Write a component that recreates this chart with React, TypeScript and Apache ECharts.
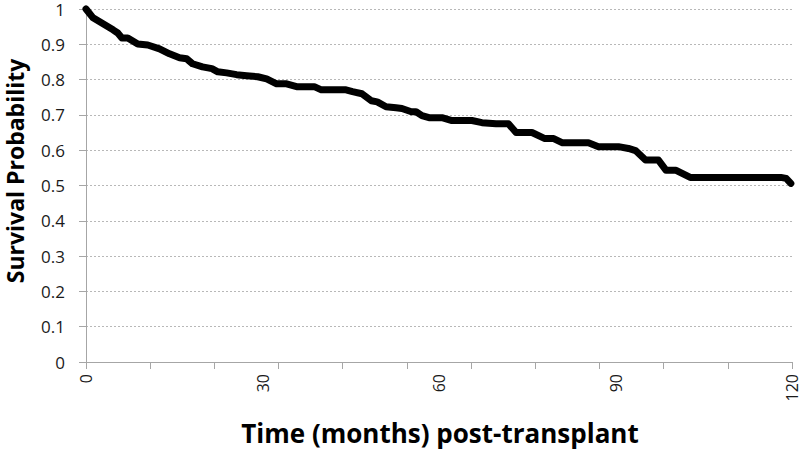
import React, { useEffect, useRef } from "react";
import * as echarts from "echarts";

const months = [0, 1.2, 2.9, 4.6, 5.4, 6.1, 7.1, 8.8, 10.5, 12.5, 14.2, 15.9, 17.1, 18.1, 19.8, 21.4, 22.4, 23.9, 25.6, 27.3, 29.2, 30.7, 32.4, 34.1, 35.8, 38.8, 40.0, 44.2, 45.3, 46.9, 48.5, 49.5, 51.0, 52.7, 53.7, 55.3, 56.1, 57.1, 58.3, 60.5, 62.2, 65.6, 67.3, 69.7, 71.8, 73.1, 75.8, 78.0, 79.5, 81.0, 85.4, 87.1, 90.5, 92.2, 93.4, 95.1, 97.3, 98.6, 100.3, 102.7, 118.1, 119.0, 119.8];
const survival = [1.0, 0.975, 0.958, 0.941, 0.932, 0.918, 0.918, 0.901, 0.898, 0.887, 0.873, 0.862, 0.859, 0.845, 0.836, 0.831, 0.822, 0.819, 0.814, 0.811, 0.808, 0.802, 0.788, 0.788, 0.78, 0.78, 0.771, 0.771, 0.766, 0.76, 0.74, 0.737, 0.723, 0.72, 0.718, 0.709, 0.709, 0.698, 0.692, 0.692, 0.684, 0.684, 0.678, 0.675, 0.675, 0.65, 0.65, 0.633, 0.633, 0.621, 0.621, 0.61, 0.61, 0.605, 0.599, 0.572, 0.572, 0.543, 0.543, 0.523, 0.523, 0.52, 0.506];
const xLabelValues = [0, 30, 60, 90, 120];
const yTicks = [0, 0.1, 0.2, 0.3, 0.4, 0.5, 0.6, 0.7, 0.8, 0.9, 1];
const xTitle = "Time (months) post-transplant";
const yTitle = "Survival Probability";

const FONT = "'Open Sans', 'Noto Sans', sans-serif";

export default function App() {
  const ref = useRef<HTMLDivElement>(null);
  useEffect(() => {
    if (!ref.current) return;
    const chart = echarts.init(ref.current, null, { renderer: "svg" });
    const data = months.map((m, i) => [m, survival[i]]);
    chart.setOption({
      animation: false,
      backgroundColor: "#ffffff",
      grid: { left: 86, right: 8, top: 9, bottom: 88, containLabel: false },
      xAxis: [
        {
          type: "value",
          min: 0,
          max: 120,
          interval: 30,
          position: "bottom",
          axisLine: { show: true, lineStyle: { color: "#a6a6a6", width: 1 } },
          axisTick: { show: false },
          splitLine: { show: false },
          axisLabel: {
            rotate: 90,
            margin: 12,
            fontSize: 16,
            lineHeight: 14,
            fontFamily: FONT,
            color: "#1a1a1a",
            showMinLabel: true,
            showMaxLabel: true,
            hideOverlap: false,
            formatter: (v: number) => (xLabelValues.includes(v) ? String(v) : ""),
          },
        },
        {
          type: "value",
          min: 0,
          max: 120,
          interval: 120 / 11,
          position: "bottom",
          axisLine: { show: true, lineStyle: { color: "#a6a6a6", width: 1 } },
          axisTick: { show: true, length: 7, lineStyle: { color: "#a6a6a6" } },
          axisLabel: { show: false },
          splitLine: { show: false },
        },
      ],
      yAxis: {
        type: "value",
        min: 0,
        max: 1,
        interval: 0.1,
        axisLine: { show: true, lineStyle: { color: "#a6a6a6", width: 1 } },
        axisTick: { show: true, length: 7, lineStyle: { color: "#a6a6a6" } },
        axisLabel: {
          margin: 21,
          fontSize: 17,
          lineHeight: 14,
          fontFamily: FONT,
          color: "#1a1a1a",
          formatter: (v: number) => {
            const r = Math.round(v * 10) / 10;
            return yTicks.includes(r) ? String(r) : "";
          },
        },
        splitLine: { show: true, lineStyle: { color: "#b8b8b8", type: [2, 2], width: 1 } },
      },
      graphic: [
        {
          type: "text",
          x: 15,
          y: 171,
          rotation: Math.PI / 2,
          style: {
            text: yTitle,
            fontSize: 23,
            fontWeight: "bold",
            fontFamily: FONT,
            fill: "#000",
            align: "center",
            verticalAlign: "middle",
          },
        },
        {
          type: "text",
          x: 440,
          y: 433,
          style: {
            text: xTitle,
            fontSize: 26,
            fontWeight: "bold",
            fontFamily: FONT,
            fill: "#000",
            align: "center",
            verticalAlign: "middle",
          },
        },
      ],
      series: [
        {
          type: "line",
          xAxisIndex: 0,
          data,
          showSymbol: false,
          clip: false,
          smooth: false,
          lineStyle: { color: "#000", width: 7, cap: "round", join: "round" },
        },
      ],
    });
    return () => chart.dispose();
  }, []);
  return (
    <div
      ref={ref}
      style={{ position: "fixed", left: 0, top: 0, width: 800, height: 450 }}
    />
  );
}
